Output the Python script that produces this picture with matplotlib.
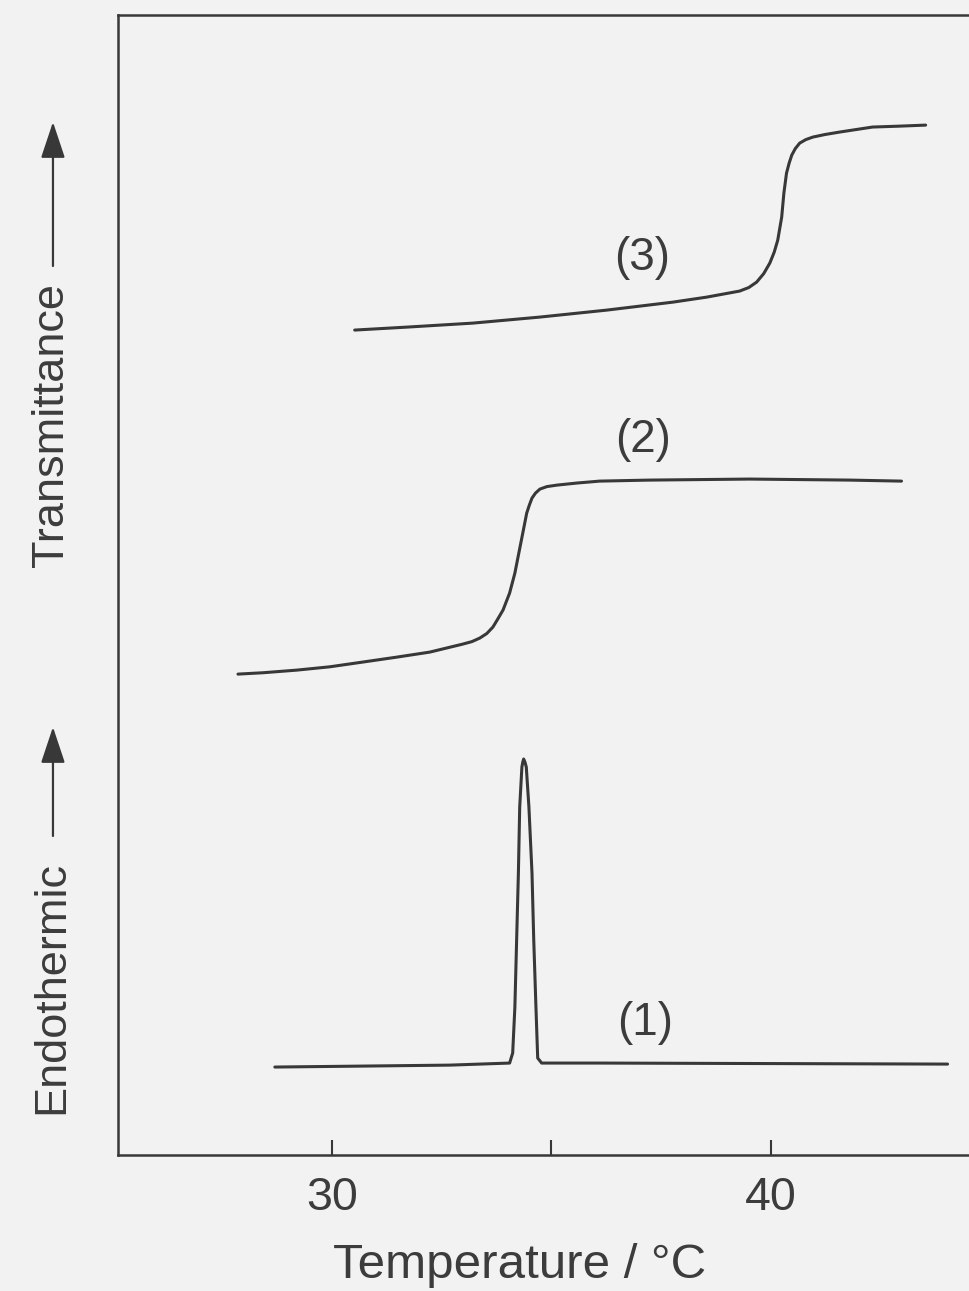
import matplotlib.pyplot as plt
from matplotlib.patches import FancyArrowPatch

plt.rcParams['font.family'] = ['Liberation Sans', 'DejaVu Sans']

# temperature (°C) and signal (arb. units)
# (1) DSC heating curve
temp_dsc = [28.70, 32.69, 34.05, 34.12, 34.17, 34.21, 34.25, 34.28, 34.33, 34.35,
            34.37, 34.40, 34.43, 34.49, 34.56, 34.60, 34.65, 34.69, 34.78, 36.10,
            44.03]
heat_dsc = [7.72, 7.89, 8.07, 8.95, 12.98, 18.86, 24.74, 30.53, 34.04, 34.47,
            34.74, 34.47, 34.04, 30.53, 24.74, 18.86, 12.98, 8.51, 8.07, 8.07,
            7.98]

# (2) transmittance, first sample
temp_tr2 = [27.86, 28.43, 29.20, 29.95, 30.71, 31.48, 32.23, 32.98, 33.19, 33.37,
            33.53, 33.67, 33.78, 33.90, 34.05, 34.17, 34.26, 34.35, 34.44, 34.50,
            34.56, 34.64, 34.74, 34.90, 35.13, 35.58, 36.10, 37.24, 39.52, 41.80,
            42.98]
trans_2 = [42.19, 42.31, 42.54, 42.83, 43.25, 43.68, 44.12, 44.82, 45.04, 45.35,
           45.75, 46.32, 47.02, 47.81, 49.30, 51.05, 52.81, 54.56, 56.32, 57.02,
           57.63, 58.07, 58.42, 58.64, 58.77, 58.95, 59.12, 59.21, 59.30, 59.21,
           59.12]

# (3) transmittance, second sample
temp_tr3 = [30.52, 31.71, 33.21, 34.74, 36.26, 37.77, 38.54, 39.29, 39.50, 39.68,
            39.84, 39.98, 40.08, 40.16, 40.25, 40.30, 40.36, 40.42, 40.48, 40.56,
            40.66, 40.80, 40.96, 41.23, 41.57, 42.32, 42.94, 43.53]
trans_3 = [72.37, 72.63, 72.98, 73.51, 74.12, 74.82, 75.26, 75.79, 76.10, 76.58,
           77.32, 78.25, 79.21, 80.26, 82.28, 84.39, 86.14, 87.02, 87.72, 88.29,
           88.77, 89.08, 89.30, 89.52, 89.74, 90.18, 90.26, 90.35]

curve_tags = ['(1)', '(2)', '(3)']
tag_x = [37.13, 37.08, 37.06]
tag_y = [11.58, 62.72, 78.68]

xticks = [30, 35, 40]
xticklabels = ['30', '', '40']

ink = '#383838'
text_ink = '#3c3c3c'
paper = '#f3f2f3'

fig = plt.figure(figsize=(9.7, 12.91), dpi=100, facecolor=paper)
# axes box runs off the right edge of the page
ax = fig.add_axes([0.1216, 0.1053, 0.9444, 0.8830], facecolor=paper)

for xs, ys in [(temp_dsc, heat_dsc), (temp_tr2, trans_2), (temp_tr3, trans_3)]:
    ax.plot(xs, ys, color=ink, lw=2.2, solid_joinstyle='round', solid_capstyle='round')

for tag, tx, ty in zip(curve_tags, tag_x, tag_y):
    ax.text(tx, ty, tag, fontsize=33, color=text_ink, ha='center', va='center')

ax.set_xlim(25.125, 46.0)
ax.set_ylim(0, 100)
ax.set_xticks(xticks)
ax.set_xticklabels(xticklabels)
ax.tick_params(axis='x', direction='in', length=10.5, width=1.5, color=ink,
               labelsize=33.5, labelcolor=text_ink, pad=15)
ax.set_yticks([])
for side in ['left', 'top', 'bottom']:
    ax.spines[side].set_color(ink)
    ax.spines[side].set_linewidth(1.8)
ax.spines['right'].set_visible(False)

fig.text(0.536, 0.0201, 'Temperature / °C', fontsize=35.5, color=text_ink,
         ha='center', va='center')

# y-axis captions, each with an upward arrow
fig.text(0.0536, 1 - 425 / 1291, 'Transmittance', fontsize=32.5, color=text_ink,
         rotation=90, ha='center', va='center')
fig.text(0.0536, 1 - 988 / 1291, 'Endothermic', fontsize=32.5, color=text_ink,
         rotation=90, ha='center', va='center')
arrow_style = dict(arrowstyle='-|>,head_length=1.5,head_width=0.5', color=ink, lw=1.6,
                   shrinkA=0, shrinkB=0)
fig.add_artist(FancyArrowPatch((0.0546, 1 - 266 / 1291), (0.0546, 1 - 122 / 1291),
                               transform=fig.transFigure, mutation_scale=15, **arrow_style))
fig.add_artist(FancyArrowPatch((0.0546, 1 - 836 / 1291), (0.0546, 1 - 727 / 1291),
                               transform=fig.transFigure, mutation_scale=15, **arrow_style))

fig.savefig('out.png', dpi=100, facecolor=paper)
